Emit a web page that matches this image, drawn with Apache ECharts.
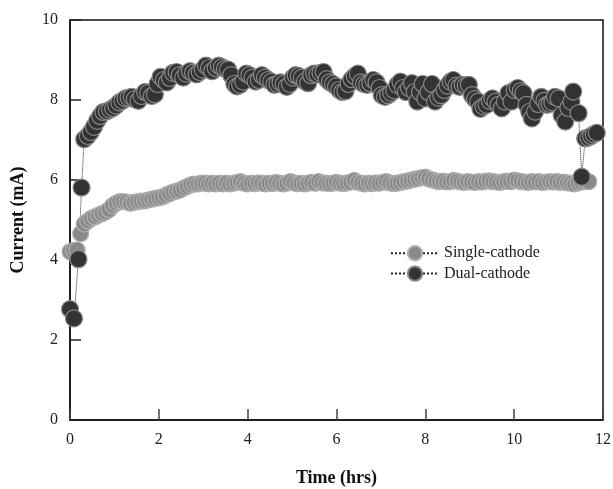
<!DOCTYPE html>
<html>
<head>
<meta charset="utf-8">
<script src="https://cdn.jsdelivr.net/npm/echarts@6/dist/echarts.min.js"></script>
<style>html,body{margin:0;padding:0;background:#fff}#c{width:613px;height:489px}</style>
</head>
<body>
<div id="c"></div>
<script>
var xTicks = [0, 2, 4, 6, 8, 10, 12];
var yTicks = [0, 2, 4, 6, 8, 10];

var singleT = [0.00,0.08,0.16,0.24,0.32,0.40,0.48,0.56,0.64,0.72,0.80,0.88,0.96,1.04,1.12,1.20,1.28,1.36,1.44,1.52,1.60,1.68,1.76,1.84,1.92,2.00,2.08,2.16,2.24,2.32,2.40,2.48,2.56,2.64,2.72,2.80,2.88,2.96,3.04,3.12,3.20,3.28,3.36,3.44,3.52,3.60,3.68,3.76,3.84,3.92,4.00,4.08,4.16,4.24,4.32,4.40,4.48,4.56,4.64,4.72,4.80,4.88,4.96,5.04,5.12,5.20,5.28,5.36,5.44,5.52,5.60,5.68,5.76,5.84,5.92,6.00,6.08,6.16,6.24,6.32,6.40,6.48,6.56,6.64,6.72,6.80,6.88,6.96,7.04,7.12,7.20,7.28,7.36,7.44,7.52,7.60,7.68,7.76,7.84,7.92,8.00,8.08,8.16,8.24,8.32,8.40,8.48,8.56,8.64,8.72,8.80,8.88,8.96,9.04,9.12,9.20,9.28,9.36,9.44,9.52,9.60,9.68,9.76,9.84,9.92,10.00,10.08,10.16,10.24,10.32,10.40,10.48,10.56,10.64,10.72,10.80,10.88,10.96,11.04,11.12,11.20,11.28,11.36,11.44,11.52,11.60,11.68,11.76,11.86];
var singleV = [4.21,4.24,4.25,4.66,4.90,4.98,5.04,5.08,5.12,5.16,5.20,5.26,5.36,5.42,5.46,5.46,5.45,5.42,5.44,5.46,5.47,5.48,5.50,5.52,5.54,5.56,5.58,5.62,5.66,5.70,5.72,5.75,5.80,5.84,5.88,5.90,5.90,5.92,5.92,5.90,5.92,5.90,5.92,5.90,5.92,5.90,5.92,5.94,5.96,5.92,5.90,5.92,5.91,5.93,5.92,5.90,5.92,5.91,5.94,5.92,5.90,5.92,5.96,5.93,5.91,5.92,5.90,5.92,5.94,5.92,5.96,5.93,5.92,5.91,5.92,5.94,5.92,5.91,5.93,5.95,5.99,5.94,5.92,5.90,5.92,5.91,5.93,5.92,5.94,5.96,5.93,5.91,5.92,5.94,5.96,5.98,6.00,6.02,6.04,6.06,6.07,6.03,6.00,5.98,5.96,5.97,5.95,5.96,5.99,5.97,5.95,5.94,5.96,5.95,5.94,5.96,5.95,5.97,5.98,5.96,5.95,5.94,5.96,5.97,5.96,6.00,5.98,5.96,5.95,5.94,5.96,5.95,5.96,5.94,5.95,5.96,5.95,5.96,5.94,5.95,5.93,5.92,5.90,5.93,5.95,5.96,5.96];

var dualT = [0.00,0.09,0.19,0.26,0.32,0.40,0.47,0.54,0.61,0.68,0.75,0.83,0.90,0.97,1.04,1.11,1.18,1.25,1.32,1.39,1.46,1.54,1.61,1.69,1.76,1.84,1.91,1.97,2.04,2.11,2.18,2.25,2.32,2.40,2.47,2.55,2.62,2.70,2.77,2.85,2.92,2.99,3.06,3.13,3.20,3.28,3.35,3.42,3.49,3.56,3.63,3.70,3.76,3.83,3.90,3.97,4.04,4.11,4.18,4.25,4.32,4.39,4.46,4.53,4.60,4.67,4.74,4.81,4.88,4.95,5.02,5.08,5.15,5.22,5.29,5.36,5.43,5.50,5.57,5.64,5.71,5.78,5.85,5.92,5.99,6.06,6.13,6.20,6.27,6.34,6.41,6.48,6.55,6.62,6.69,6.76,6.83,6.90,6.97,7.02,7.09,7.16,7.23,7.30,7.37,7.44,7.50,7.56,7.63,7.70,7.76,7.82,7.88,7.94,8.00,8.07,8.15,8.22,8.29,8.36,8.43,8.50,8.57,8.63,8.70,8.77,8.84,8.91,8.98,9.05,9.12,9.19,9.24,9.31,9.38,9.45,9.51,9.58,9.65,9.72,9.79,9.87,9.94,10.01,10.08,10.15,10.21,10.28,10.34,10.40,10.47,10.54,10.61,10.68,10.74,10.80,10.86,10.92,11.00,11.07,11.15,11.22,11.29,11.33,11.45,11.52,11.60,11.67,11.73,11.79,11.86];
var dualV = [2.77,2.54,4.02,5.81,7.02,7.10,7.20,7.33,7.48,7.60,7.70,7.72,7.76,7.80,7.86,7.94,7.98,8.04,8.06,8.08,8.02,7.98,8.10,8.20,8.18,8.10,8.14,8.40,8.58,8.50,8.44,8.55,8.68,8.70,8.62,8.56,8.66,8.72,8.68,8.64,8.70,8.76,8.86,8.80,8.72,8.80,8.86,8.82,8.78,8.76,8.62,8.40,8.34,8.38,8.46,8.66,8.62,8.56,8.46,8.50,8.62,8.56,8.50,8.46,8.38,8.40,8.44,8.40,8.33,8.40,8.56,8.62,8.60,8.56,8.46,8.42,8.62,8.66,8.64,8.68,8.70,8.52,8.44,8.40,8.34,8.25,8.20,8.22,8.40,8.52,8.60,8.66,8.44,8.40,8.38,8.42,8.50,8.44,8.30,8.12,8.08,8.12,8.18,8.24,8.38,8.46,8.30,8.20,8.30,8.42,8.20,7.96,8.20,8.40,8.04,8.20,8.40,7.96,8.06,8.12,8.25,8.36,8.46,8.50,8.36,8.33,8.38,8.36,8.38,8.12,8.02,7.96,7.78,7.84,7.88,7.98,8.04,7.96,7.88,7.79,7.96,8.17,7.96,8.25,8.30,8.22,8.17,7.88,7.70,7.54,7.71,7.90,8.08,7.98,7.88,7.90,7.94,8.08,8.04,7.62,7.46,7.80,7.96,8.21,7.67,6.08,7.04,7.06,7.10,7.14,7.18];

function pairs(t, v) { return t.map(function (x, i) { return [x, v[i]]; }); }

var serif = '"Liberation Serif", "DejaVu Serif", serif';
var chart = echarts.init(document.getElementById('c'), null, { renderer: 'canvas' });
chart.setOption({
  animation: false,
  backgroundColor: '#ffffff',
  grid: { left: 70, right: 10, top: 20, bottom: 69, outerBoundsMode: 'none', containLabel: false, show: true, borderColor: '#111', borderWidth: 1.5, backgroundColor: 'transparent' },
  legend: {
    orient: 'vertical', left: 385, top: 240, itemGap: 4, itemWidth: 48, itemHeight: 18,
    textStyle: { fontFamily: serif, fontSize: 16, color: '#222' },
    data: ['Single-cathode', 'Dual-cathode']
  },
  xAxis: {
    type: 'value', min: xTicks[0], max: xTicks[xTicks.length - 1], interval: 2,
    name: 'Time (hrs)', nameLocation: 'middle', nameGap: 49,
    nameTextStyle: { fontFamily: serif, fontSize: 18, fontWeight: 'bold', color: '#111' },
    axisLine: { lineStyle: { color: '#111', width: 1.5 } },
    axisTick: { inside: true, length: 11, lineStyle: { color: '#444', width: 1.5 } },
    axisLabel: { fontFamily: serif, fontSize: 16, color: '#222', margin: 12 },
    splitLine: { show: false }
  },
  yAxis: {
    type: 'value', min: yTicks[0], max: yTicks[yTicks.length - 1], interval: 2,
    name: 'Current (mA)', nameLocation: 'middle', nameGap: 43,
    nameTextStyle: { fontFamily: serif, fontSize: 18, fontWeight: 'bold', color: '#111' },
    axisLine: { show: true, lineStyle: { color: '#111', width: 1.5 } },
    axisTick: { show: true, inside: true, length: 11, lineStyle: { color: '#222', width: 1.5 } },
    axisLabel: { fontFamily: serif, fontSize: 16, color: '#222', margin: 12 },
    splitLine: { show: false }
  },
  series: [
    {
      name: 'Single-cathode', type: 'line', data: pairs(singleT, singleV),
      symbol: 'circle', symbolSize: 16, showSymbol: true, clip: false,
      lineStyle: { color: '#222', width: 1, type: 'dotted' },
      itemStyle: { color: '#8a8a8a', borderColor: '#b0b0b0', borderWidth: 1.2 }
    },
    {
      name: 'Dual-cathode', type: 'line', data: pairs(dualT, dualV),
      symbol: 'circle', symbolSize: 17, showSymbol: true, clip: false,
      lineStyle: { color: '#222', width: 1, type: 'dotted' },
      itemStyle: { color: '#333333', borderColor: '#888888', borderWidth: 1.2 }
    }
  ]
});
</script>
</body>
</html>
